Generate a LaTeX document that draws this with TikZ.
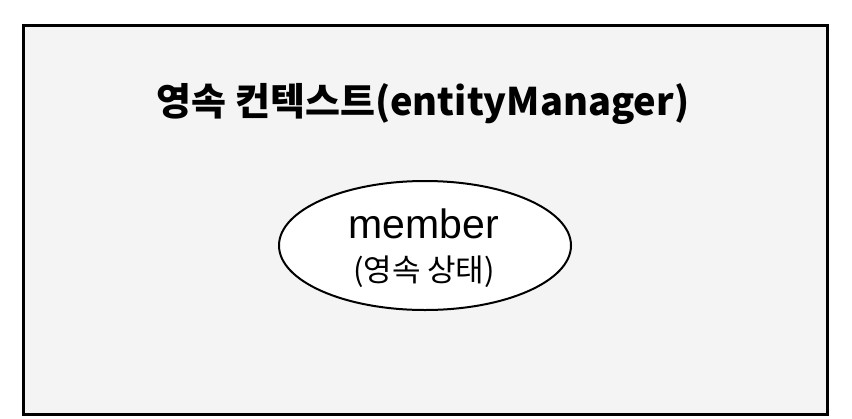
\documentclass[tikz,border=0pt]{standalone}
\usepackage{fontspec}
\usetikzlibrary{shapes.geometric}
\setmainfont{Noto Sans CJK KR}
\newfontfamily\latinfont{Liberation Sans}
\definecolor{ctxgray}{HTML}{F4F4F4}
\begin{document}
\begin{tikzpicture}[x=1pt,y=-1pt,
        ctx/.style={draw=black,line width=3pt,fill=ctxgray},
        entity/.style={ellipse,draw=black,line width=2pt,fill=white,
            minimum width=292pt,minimum height=129pt,inner sep=0pt,
            align=center}]
    \useasboundingbox (0,0) rectangle (852,418);
	\draw[ctx] (23.5,25.5) rectangle (827.5,414);
	
\node[font=\bfseries\fontsize{38}{44}\selectfont] (title) at (423,104) {영속 컨텍스트(entityManager)};
\node[entity] (member) at (425,245.5) {};
\node[font=\latinfont\fontsize{41}{47}\selectfont,anchor=base] (name) at (424,238) {member};
\node[font=\fontsize{31}{36}\selectfont,anchor=base] (state) at (424,281) {(영속 상태)};
\end{tikzpicture}
\end{document}
